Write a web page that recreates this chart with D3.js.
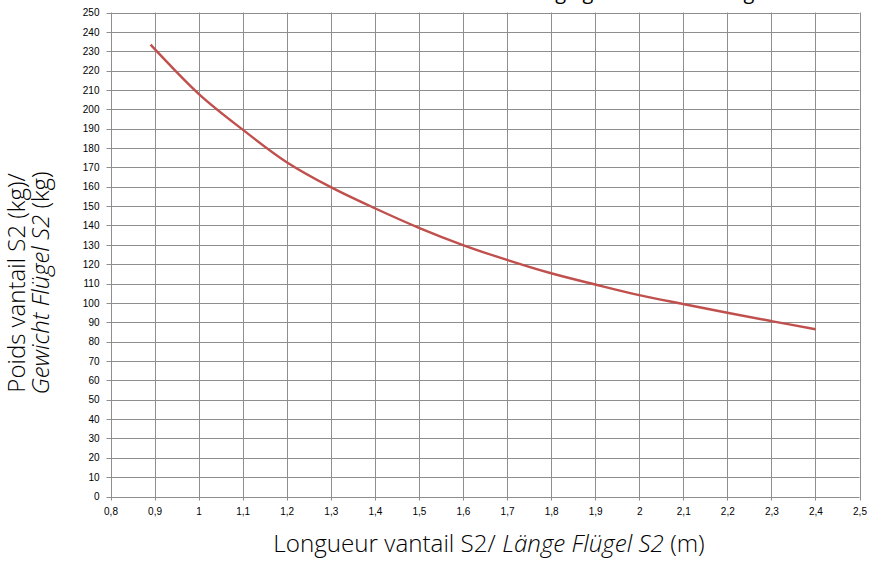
<!DOCTYPE html>
<html>
<head>
<meta charset="utf-8">
<script src="https://d3js.org/d3.v7.min.js"></script>
<style>
  body { margin: 0; background: #fff; }
  svg { display: block; }
</style>
</head>
<body>
<script>
// Data
var lengths = [0.891, 0.9, 1.0, 1.1, 1.2, 1.3, 1.4, 1.5, 1.6, 1.7, 1.8, 1.9, 2.0, 2.1, 2.2, 2.3, 2.4];
var weights = [233.4, 231.2, 208, 189.5, 172.7, 159.8, 148.9, 138.8, 129.9, 122.2, 115.3, 109.5, 104, 99.4, 94.9, 90.6, 86.4];
var xTicks = d3.range(8, 26).map(function(d) { return d / 10; });
var yTicks = d3.range(0, 260, 10);

var data = lengths.map(function(d, i) { return { x: d, y: weights[i] }; });

var svg = d3.select("body").append("svg").attr("width", 880).attr("height", 565);

var pLeft = 110.5, pRight = 859.5, pTop = 12.5, pBottom = 496.5;

var x = d3.scaleLinear().domain([0.8, 2.5]).range([pLeft, pRight]);
var y = d3.scaleLinear().domain([0, 250]).range([pBottom, pTop]);

var fmt = function(d) { return String(+d.toFixed(1)).replace(".", ","); };
var titleFont = "'Open Sans', sans-serif";

// Title (mostly cut off at the top)
svg.append("text")
    .attr("x", 470).attr("y", -1)
    .attr("text-anchor", "middle")
    .style("font-family", titleFont)
    .style("font-size", "20px")
    .text("Poids maximal vantail S2 / Maximales Flügelgewicht nach Länge");

// Grid
svg.append("g").selectAll("line").data(xTicks).enter().append("line")
    .attr("x1", function(d) { return Math.round(x(d)) + 0.5; })
    .attr("x2", function(d) { return Math.round(x(d)) + 0.5; })
    .attr("y1", pTop).attr("y2", pBottom + 4)
    .attr("stroke", "#8e8e8e").attr("stroke-width", 1);

svg.append("g").selectAll("line").data(yTicks).enter().append("line")
    .attr("x1", pLeft - 4).attr("x2", pRight)
    .attr("y1", function(d) { return Math.round(y(d)) + 0.5; })
    .attr("y2", function(d) { return Math.round(y(d)) + 0.5; })
    .attr("stroke", "#8e8e8e").attr("stroke-width", 1);

// Axes labels via d3 axes
var yAxis = svg.append("g")
    .attr("transform", "translate(" + pLeft + ",0)")
    .call(d3.axisLeft(y).tickValues(yTicks).tickSize(0).tickPadding(11));
var xAxis = svg.append("g")
    .attr("transform", "translate(0," + pBottom + ")")
    .call(d3.axisBottom(x).tickValues(xTicks).tickFormat(fmt).tickSize(0).tickPadding(11));

[yAxis, xAxis].forEach(function(a) {
    a.select(".domain").remove();
    a.selectAll("text")
        .style("font-family", "'Liberation Sans', Arial, sans-serif")
        .style("font-size", "10px")
        .attr("fill", "#000");
});

// Curve
var line = d3.line()
    .x(function(d) { return x(d.x); })
    .y(function(d) { return y(d.y); })
    .curve(d3.curveCatmullRom);

svg.append("path").datum(data)
    .attr("d", line)
    .attr("fill", "none")
    .attr("stroke", "#c0504d")
    .attr("stroke-width", 2.4);

// X axis title
var xt = svg.append("text")
    .attr("x", 489).attr("y", 552)
    .attr("text-anchor", "middle")
    .style("font-family", titleFont)
    .style("font-weight", 300)
    .style("font-size", "24.2px");
xt.append("tspan").text("Longueur vantail S2/ ");
xt.append("tspan").style("font-style", "italic").text("Länge Flügel S2");
xt.append("tspan").text(" (m)");

// Y axis title
var yt = svg.append("text")
    .attr("transform", "translate(25,283) rotate(-90)")
    .attr("text-anchor", "middle")
    .style("font-family", titleFont)
    .style("font-weight", 300)
    .style("font-size", "24px");
yt.append("tspan").attr("x", 0).attr("dy", 0).text("Poids vantail S2 (kg)/");
var l2 = yt.append("tspan").attr("x", 0).attr("dy", 24);
l2.append("tspan").style("font-style", "italic").text("Gewicht Flügel S2");
l2.append("tspan").text(" (kg)");
</script>
</body>
</html>
